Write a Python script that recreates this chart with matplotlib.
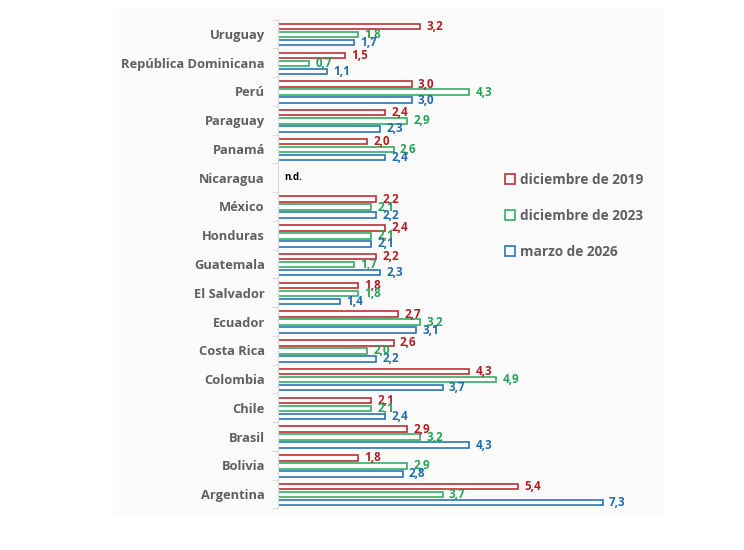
import numpy as np
import matplotlib
matplotlib.use('Agg')
import matplotlib.pyplot as plt
from matplotlib.patches import Rectangle

# =============================================================================
# Data (bottom to top, as drawn)
# =============================================================================
paises = ['Argentina', 'Bolivia', 'Brasil', 'Chile', 'Colombia', 'Costa Rica',
          'Ecuador', 'El Salvador', 'Guatemala', 'Honduras', 'México',
          'Nicaragua', 'Panamá', 'Paraguay', 'Perú', 'República Dominicana',
          'Uruguay']
dic2019 = [5.4, 1.8, 2.9, 2.1, 4.3, 2.6, 2.7, 1.8, 2.2, 2.4, 2.2,
           np.nan, 2.0, 2.4, 3.0, 1.5, 3.2]
dic2023 = [3.7, 2.9, 3.2, 2.1, 4.9, 2.0, 3.2, 1.8, 1.7, 2.1, 2.1,
           np.nan, 2.6, 2.9, 4.3, 0.7, 1.8]
mar2026 = [7.3, 2.8, 4.3, 2.4, 3.7, 2.2, 3.1, 1.4, 2.3, 2.1, 2.2,
           np.nan, 2.4, 2.3, 3.0, 1.1, 1.7]
series_labels = ['diciembre de 2019', 'diciembre de 2023', 'marzo de 2026']

# =============================================================================
# Plotting
# =============================================================================
edge_cols = ['#BD2F33', '#34AE63', '#2A74B8']
text_cols = ['#B41E22', '#26A257', '#1F6DB0']
gray = '#606060'

fig = plt.figure(figsize=(7.44, 5.5), dpi=100, facecolor='w')
fig.patches.append(Rectangle((113 / 744, 1 - 515 / 550), (665 - 113) / 744,
                             (515 - 8) / 550, transform=fig.transFigure,
                             facecolor='#FBFBFB', edgecolor='none', zorder=-10))

ax = fig.add_axes([278 / 744, 1 - 508.4 / 550, 8.6 * 44.5 / 744, 488.8 / 550])
ax.set_facecolor('none')

y = np.arange(len(paises))
offsets = [0.26, -0.02, -0.30]
for vals, off, ec, tc, lab in zip([dic2019, dic2023, mar2026], offsets,
                                  edge_cols, text_cols, series_labels):
    vals = np.array(vals)
    ok = ~np.isnan(vals)
    ax.barh(y[ok] + off, vals[ok], height=0.19, facecolor='white',
            edgecolor=ec, linewidth=1.2, label=lab)
    for yy, v in zip(y[ok] + off, vals[ok]):
        ax.annotate(f'{v:.1f}'.replace('.', ','), (v, yy), xytext=(4.5, 0),
                    textcoords='offset points', va='center', ha='left',
                    fontsize=8.4, fontweight='bold', color=tc,
                    family='Open Sans')

nic = paises.index('Nicaragua')
ax.text(0.15, nic, 'n.d.', va='center', ha='left', fontsize=7,
        fontweight='bold', color='black', family='Open Sans')

ax.set_xlim(0, 8.6)
ax.set_ylim(-0.5, len(paises) - 0.5)
ax.set_yticks(y)
ax.set_yticklabels(paises, fontsize=9.3, fontweight='bold', color=gray,
                   family='Open Sans')
ax.set_yticks(np.arange(-0.5, len(paises), 1), minor=True)
ax.tick_params(axis='y', which='major', length=0, pad=9.5)
ax.tick_params(axis='y', which='minor', length=4, color='#D9D9D9', width=0.8)
ax.set_xticks([])
for s in ['top', 'right', 'bottom']:
    ax.spines[s].set_visible(False)
ax.spines['left'].set_color('#D9D9D9')

leg = fig.legend(loc='upper left', bbox_to_anchor=(505 / 744, 1 - 173 / 550),
                 frameon=False, borderpad=0, borderaxespad=0,
                 handlelength=0.75, handleheight=0.75, handletextpad=0.35,
                 labelspacing=1.62,
                 prop={'family': 'Open Sans', 'weight': 'bold', 'size': 9.8})
for t in leg.get_texts():
    t.set_color(gray)

plt.savefig('out.png', dpi=100)
